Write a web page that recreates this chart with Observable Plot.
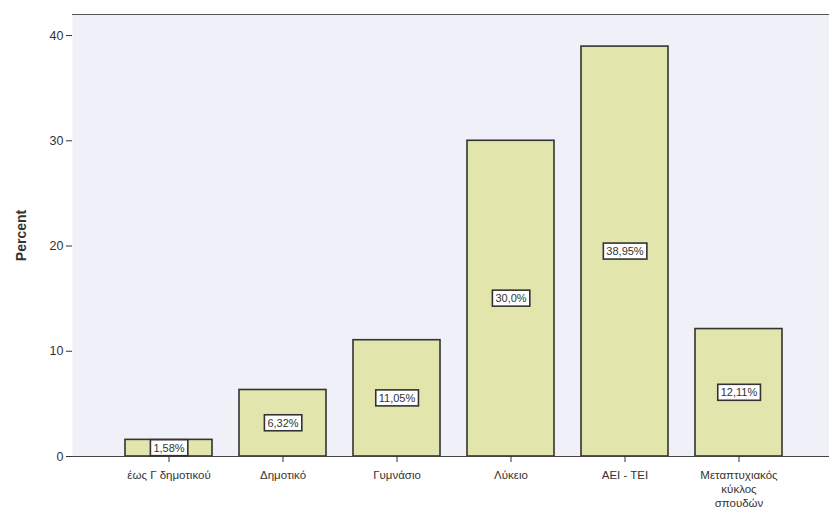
<!DOCTYPE html>
<html><head><meta charset="utf-8">
<script src="https://cdn.jsdelivr.net/npm/d3@7"></script>
<script src="https://cdn.jsdelivr.net/npm/@observablehq/plot@0.6"></script>
<style>
body{margin:0;background:#fff;}
svg [aria-label="y-axis label"] text{font-weight:bold;font-size:14px;}
</style>
</head><body><div id="chart"></div>
<script>
const categories = ["έως Γ δημοτικού", "Δημοτικό", "Γυμνάσιο", "Λύκειο", "ΑΕΙ - ΤΕΙ", "Μεταπτυχιακός κύκλος σπουδών"];
const tickLabels = ["έως Γ δημοτικού", "Δημοτικό", "Γυμνάσιο", "Λύκειο", "ΑΕΙ - ΤΕΙ", "Μεταπτυχιακός\nκύκλος\nσπουδών"];
const values = [1.58, 6.32, 11.05, 30.0, 38.95, 12.11];
const valueLabels = ["1,58%", "6,32%", "11,05%", "30,0%", "38,95%", "12,11%"];
const yTicks = [0, 10, 20, 30, 40];

const data = categories.map((c, i) => ({cat: c, value: values[i], label: valueLabels[i]}));
const tickMap = new Map(categories.map((c, i) => [c, tickLabels[i]]));

const chart = Plot.plot({
  width: 829, height: 523,
  marginLeft: 72, marginRight: 0, marginTop: 14, marginBottom: 67,
  style: {fontFamily: "'Liberation Sans', Arial, sans-serif", background: "white", color: "#333"},
  x: {domain: categories, padding: 0.24, insetLeft: 23.5, insetRight: 18.5, label: null},
  y: {domain: [0, 42], label: null},
  marks: [
    Plot.frame({fill: "#eff0f8"}),
    Plot.ruleY([42], {stroke: "#555", strokeWidth: 1}),
    Plot.barY(data, {x: "cat", y: "value", fill: "#e3e6ac", stroke: "#333", strokeWidth: 1.6}),
    Plot.ruleY([0], {stroke: "#444", strokeWidth: 1}),
    Plot.axisY({ticks: yTicks, tickSize: 6, tickPadding: 3, fontSize: 12.5, label: "Percent", labelAnchor: "center", labelArrow: "none", labelOffset: 56, line: true}),
    Plot.axisX({tickSize: 6, tickPadding: 6, fontSize: 11.5, lineHeight: 1.25, tickFormat: d => tickMap.get(d), label: null}),
    Plot.text(data, {x: "cat", y: d => d.value / 2, text: "label", fontSize: 11, fill: "#333", className: "vlabel"})
  ]
});
document.getElementById("chart").appendChild(chart);

// white boxes with border behind value labels
chart.querySelectorAll("g.vlabel text").forEach(t => {
  const b = t.getBBox();
  const r = document.createElementNS("http://www.w3.org/2000/svg", "rect");
  r.setAttribute("x", b.x - 3);
  r.setAttribute("y", b.y - 2);
  r.setAttribute("width", b.width + 6);
  r.setAttribute("height", b.height + 4);
  r.setAttribute("fill", "white");
  r.setAttribute("stroke", "#333");
  r.setAttribute("stroke-width", 1.6);
  if (t.getAttribute("transform")) r.setAttribute("transform", t.getAttribute("transform"));
  t.parentNode.insertBefore(r, t);
});
</script>
</body></html>
